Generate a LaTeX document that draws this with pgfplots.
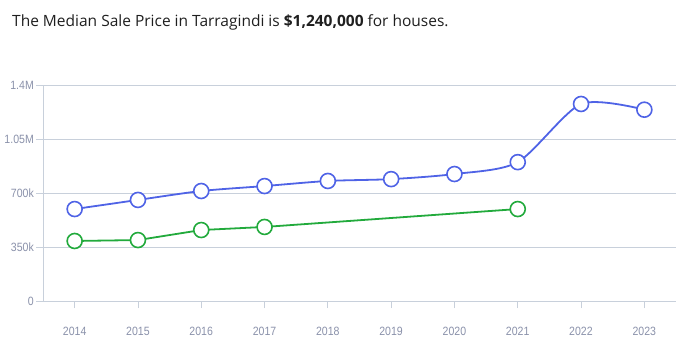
\documentclass[border=0pt]{standalone}
\usepackage{pgfplots}
\pgfplotsset{compat=1.18}
\usepackage{fontspec}
\setmainfont{Open Sans}
\newfontfamily\tickfont[FakeStretch=0.88]{Liberation Sans}
\definecolor{blueline}{HTML}{4F63E6}
\definecolor{greenline}{HTML}{22AA3C}
\definecolor{gridc}{HTML}{C8D0DB}
\definecolor{tickc}{HTML}{8A91AA}
\begin{document}
\begin{tikzpicture}
\useasboundingbox (0,0) rectangle (695pt,351pt);
\node[anchor=west, inner sep=0pt, text=black!88] at (12pt,329pt) {\fontsize{15.5}{18}\selectfont The Median Sale Price in Tarragindi is \textbf{\$1,240,000} for houses.};
\begin{axis}[
  at={(43pt,50pt)}, anchor=south west,
  scale only axis, width=633pt, height=216pt,
  xmin=2013.5, xmax=2023.5, ymin=0, ymax=1400000,
  scaled y ticks=false,
  /pgf/number format/assume math mode=true,
  axis lines=left, axis line style={gridc, line width=0.8pt, -},
  xtick={2014,...,2023},
  xticklabels={2014,2015,2016,2017,2018,2019,2020,2021,2022,2023},
  ytick={0,350000,700000,1050000,1400000},
  yticklabels={0,350k,700k,1.05M,1.4M},
  ymajorgrids, grid style={gridc, line width=0.8pt},
  tick style={gridc, line width=0.8pt},
  major tick length=7pt,
  tick align=outside,
  tick label style={font=\tickfont\fontsize{12}{14}\selectfont, text=tickc, inner sep=0pt},
  xticklabel style={anchor=center, yshift=-23pt},
  yticklabel style={anchor=east, xshift=-2pt},
  clip=false,
]
\addplot[blueline, line width=1.8pt, smooth, tension=0.45, mark=*, mark size=7.5pt, mark options={fill=white, draw=blueline, line width=1.6pt}]
 coordinates {(2014,596000)(2015,655000)(2016,713000)(2017,745000)(2018,778000)(2019,790000)(2020,823000)(2021,900000)(2022,1277000)(2023,1240000)};
\addplot[greenline, line width=1.8pt, mark=*, mark size=7.5pt, mark options={fill=white, draw=greenline, line width=1.6pt}]
 coordinates {(2014,389000)(2015,395000)(2016,460000)(2017,480000)(2021,596000)};
\end{axis}
\end{tikzpicture}
\end{document}
